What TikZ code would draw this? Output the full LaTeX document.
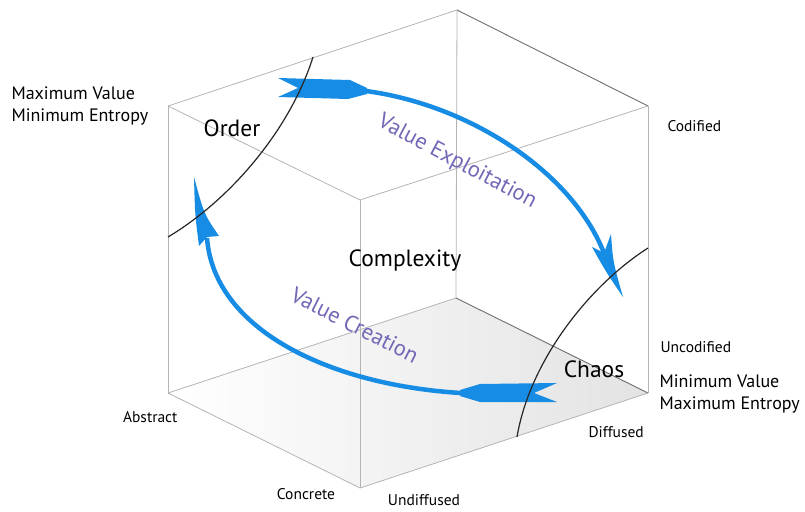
\documentclass[tikz,border=0pt]{standalone}
\usepackage{fontspec}
\setmainfont{PT Sans}
\usepackage{xcolor}

\definecolor{flowblue}{RGB}{22,140,228}
\definecolor{flowtext}{RGB}{112,104,182}
\definecolor{edgegray}{RGB}{180,180,180}
\definecolor{edgedark}{RGB}{110,110,110}

\begin{document}
\begin{tikzpicture}[x=1pt,y=-1pt,
  edge/.style={draw=edgegray,line width=0.8pt},
  backedge/.style={draw=edgedark,line width=0.9pt},
  border/.style={draw=black!85,line width=1.2pt},
  flow/.style={draw=flowblue,line width=4.5pt},
  fletch/.style={fill=flowblue,draw=none},
  axis/.style={font=\fontsize{15.5}{18}\selectfont},
  pole/.style={font=\fontsize{18}{21.5}\selectfont,align=left},
  region/.style={font=\fontsize{23.5}{26}\selectfont},
  flowlabel/.style={text=flowtext,font=\fontsize{22.5}{25}\selectfont}]
\useasboundingbox (0,0) rectangle (805,511);

% cube corners
\coordinate (tl) at (168,106);
\coordinate (tb) at (457,10);
\coordinate (tr) at (648,106);
\coordinate (tf) at (360,200);
\coordinate (bl) at (168,393);
\coordinate (bb) at (456,298);
\coordinate (br) at (648,393);
\coordinate (bf) at (360,488);

% floor
\shade[left color=white,right color=black!11] (bl)--(bb)--(br)--(bf)--cycle;

% edges
\draw[edge] (tl)--(tb);
\draw[backedge] (tb)--(tr);
\draw[edge] (tr)--(tf)--(tl);
\draw[edge] (tl)--(bl);
\draw[edge] (tf)--(bf);
\draw[edge] (tr)--(br);
\draw[edge] (tb)--(bb);
\draw[edge] (bl)--(bb);
\draw[backedge] (bb)--(br);
\draw[edge] (bl)--(bf)--(br);

% value exploitation
\draw[flow] (366,91) .. controls (470,105) and (572,172) .. (604,253);
\fill[fletch] (278,78)--(350,80)--(367,88)--(367,94)--(348,99)--(278,97)--(298,88)--cycle;
\fill[fletch] (623,297) .. controls (606,272) .. (592,247) -- (604,253) -- (611,234)
  .. controls (613,262) .. (623,297) -- cycle;

% value creation
\draw[flow] (461,393) .. controls (330,385) and (214,330) .. (207,238);
\fill[fletch] (557,383)--(480,384)--(460,390)--(460,396)--(480,402)--(557,402)--(534,393)--cycle;
\fill[fletch] (194,177) .. controls (195,215) .. (199,246) -- (207,237) -- (219,236)
  .. controls (204,214) .. (194,177) -- cycle;

% boundaries
\draw[border] (313,57) .. controls (290,130) and (230,200) .. (168,237);
\draw[border] (648,248) .. controls (590,285) and (530,360) .. (517,437);

% labels
\node[region] (order) at (232,128) {Order};
\node[region] (complexity) at (405,261) {Complexity};
\node[region] (chaos) at (594,369) {Chaos};

\node[flowlabel,rotate=-28] (exploit) at (457,162) {Value Exploitation};
\node[flowlabel,rotate=-27] (create) at (355,325) {Value Creation};

\node[pole,anchor=west] (maxval) at (8,106) {Maximum Value\\Minimum Entropy};
\node[pole,anchor=west] (minval) at (656,394) {Minimum Value\\Maximum Entropy};

\node[axis,anchor=west] (codified) at (664,126) {Codified};
\node[axis,anchor=west] (uncodified) at (657,347) {Uncodified};
\node[axis,anchor=west] (diffused) at (585,432) {Diffused};
\node[axis,anchor=east] (abstract) at (181,417) {Abstract};
\node[axis] (concrete) at (306,494) {Concrete};
\node[axis] (undiffused) at (424,500) {Undiffused};
\end{tikzpicture}
\end{document}
